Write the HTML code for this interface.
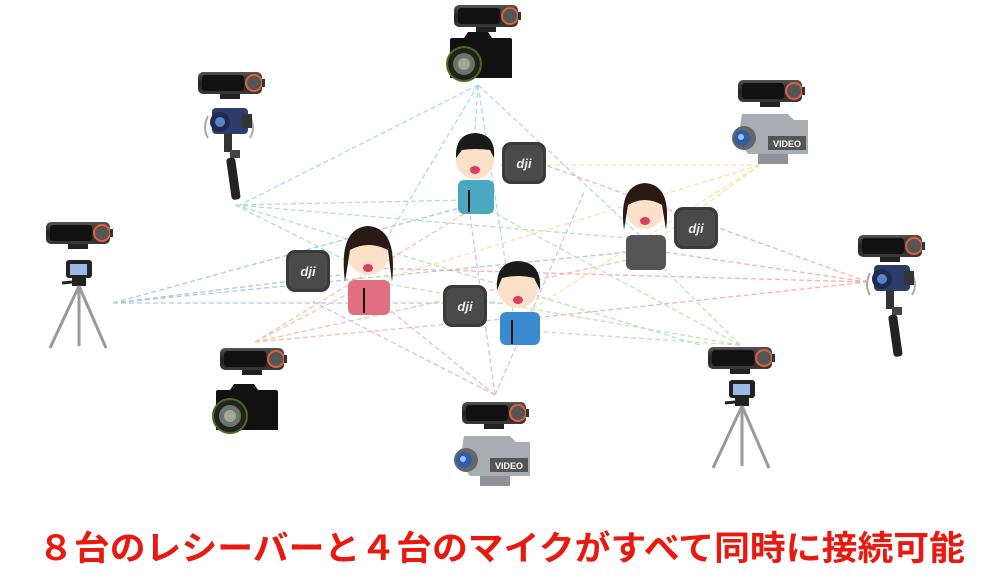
<!DOCTYPE html>
<html><head><meta charset="utf-8"><style>
html,body{margin:0;padding:0;background:#fff;width:996px;height:583px;overflow:hidden}
svg{display:block}
</style></head><body>
<svg width="996" height="583" viewBox="0 0 996 583" xmlns="http://www.w3.org/2000/svg">
<defs>
<linearGradient id="rg" x1="0" y1="0" x2="0" y2="1"><stop offset="0" stop-color="#555"/><stop offset="0.5" stop-color="#222"/><stop offset="1" stop-color="#3a3a3a"/></linearGradient>
<g id="rx">
<rect x="0" y="0" width="64" height="22" rx="5" fill="url(#rg)"/>
<rect x="4" y="3" width="42" height="16" rx="3" fill="#111"/>
<circle cx="56" cy="11" r="8" fill="#555" stroke="#e0603a" stroke-width="2"/>
<rect x="64" y="7" width="3" height="8" fill="#333"/>
<rect x="22" y="22" width="20" height="5" fill="#222"/>
</g>
<g id="dslr">
<path d="M8 8 L20 8 L24 2 L44 2 L48 8 L66 8 Q68 8 68 10 L68 48 L6 48 L6 10 Q6 8 8 8Z" fill="#111"/>
<circle cx="20" cy="34" r="17" fill="#222" stroke="#4a6b1a" stroke-width="2"/>
<circle cx="20" cy="34" r="11" fill="#6b7566"/>
<circle cx="20" cy="34" r="6" fill="#a0a89a"/>
</g>
<g id="video">
<path d="M14 4 L60 4 L66 10 L80 10 L80 44 L20 44 L10 30Z" fill="#a8adb3"/>
<rect x="40" y="26" width="38" height="14" fill="#555"/>
<text x="59" y="37" font-family="Liberation Sans,sans-serif" font-size="9" font-weight="bold" fill="#fff" text-anchor="middle">VIDEO</text>
<circle cx="16" cy="28" r="12" fill="#666"/>
<circle cx="14" cy="28" r="8" fill="#2f5ea8"/>
<circle cx="13" cy="27" r="3" fill="#9fc0f0"/>
<rect x="30" y="44" width="30" height="10" fill="#8e9399"/>
</g>
<g id="gimbal">
<path d="M8 18 Q2 30 8 40" stroke="#aaa" fill="none" stroke-width="2"/>
<path d="M50 18 Q56 30 50 40" stroke="#aaa" fill="none" stroke-width="2"/>
<rect x="12" y="10" width="36" height="26" rx="4" fill="#2d3c6b"/>
<circle cx="20" cy="24" r="10" fill="#1e2a50"/>
<circle cx="20" cy="24" r="5" fill="#5a82c8"/>
<rect x="42" y="16" width="10" height="14" fill="#333"/>
<rect x="24" y="36" width="8" height="18" fill="#333"/>
<rect x="30" y="52" width="10" height="8" fill="#444"/>
<rect x="26" y="60" width="9" height="42" rx="3" fill="#222" transform="rotate(-8 30 60)"/>
</g>
<g id="tripod">
<rect x="18" y="0" width="26" height="18" rx="3" fill="#222"/>
<rect x="22" y="4" width="17" height="11" fill="#9ab8e8"/>
<rect x="24" y="18" width="14" height="8" fill="#222"/>
<line x1="31" y1="26" x2="2" y2="88" stroke="#999" stroke-width="3"/>
<line x1="31" y1="26" x2="31" y2="86" stroke="#999" stroke-width="3"/>
<line x1="31" y1="26" x2="58" y2="88" stroke="#999" stroke-width="3"/>
<line x1="14" y1="23" x2="24" y2="22" stroke="#222" stroke-width="3"/>
</g>
<g id="dji">
<rect x="0" y="0" width="44" height="42" rx="9" fill="#3b3b3b"/>
<rect x="3" y="3" width="38" height="36" rx="7" fill="#4a4a4a"/>
<text x="22" y="26" font-family="Liberation Sans,sans-serif" font-size="13" font-style="italic" font-weight="bold" fill="#eee" text-anchor="middle">dji</text>
</g>
</defs>

<g fill="none" stroke-width="1.3" stroke-dasharray="5 3" opacity="0.85">
<g stroke="#9dd3ea"><path d="M478 85 L470 205 M478 85 L650 245 M478 85 L365 275 M478 85 L515 325 M478 85 L240 205"/></g>
<g stroke="#a8dcb8"><path d="M235 205 L470 200 M235 205 L650 240 M235 205 L365 270 M235 205 L700 345"/></g>
<g stroke="#9fc1d0"><path d="M113 303 L470 205 M113 303 L650 250 M113 303 L340 275 M113 303 L505 303"/></g>
<g stroke="#f5b89a"><path d="M255 342 L470 210 M255 342 L650 255 M255 342 L365 285 M255 342 L515 318"/></g>
<g stroke="#d8b0e0"><path d="M495 395 L470 215 M495 395 L585 190 M495 395 L365 290 M495 395 L310 300"/></g>
<g stroke="#b9dca9"><path d="M740 345 L470 200 M740 345 L650 255 M740 345 L365 280 M740 345 L515 330"/></g>
<g stroke="#f4a5a5"><path d="M868 282 L545 165 M868 282 L650 250 M868 282 L365 268 M868 282 L515 320"/></g>
<g stroke="#f8dc9a"><path d="M760 165 L500 165 M760 165 L650 245 M760 165 L365 285 M760 165 L515 320"/></g>
</g>

<use href="#rx" x="454" y="5"/><use href="#dslr" x="444" y="30"/>
<use href="#rx" x="198" y="72"/><use href="#gimbal" x="200" y="98"/>
<use href="#rx" x="46" y="222"/><use href="#tripod" x="48" y="260"/>
<use href="#rx" x="220" y="348"/><use href="#dslr" x="210" y="382"/>
<use href="#rx" x="462" y="402"/><use href="#video" x="450" y="432"/>
<use href="#rx" x="708" y="347"/><use href="#tripod" x="711" y="380"/>
<use href="#rx" x="858" y="235"/><use href="#gimbal" x="862" y="255"/>
<use href="#rx" x="738" y="80"/><use href="#video" x="728" y="110"/>

<!-- people -->
<g>
<rect x="458" y="180" width="36" height="34" rx="6" fill="#4aa8c0"/>
<circle cx="475" cy="160" r="19" fill="#fde0c8"/>
<path d="M456 158 Q455 134 475 133 Q496 134 494 158 L490 150 Q475 148 462 150Z" fill="#1a1a1a"/>
<ellipse cx="475" cy="170" rx="5" ry="4" fill="#d94060"/>
<line x1="469" y1="190" x2="469" y2="212" stroke="#111" stroke-width="2"/>
</g>
<g>
<rect x="626" y="235" width="40" height="35" rx="6" fill="#555"/>
<circle cx="645" cy="210" r="19" fill="#fde0c8"/>
<path d="M624 230 Q618 185 645 183 Q672 185 666 230 L662 205 Q645 195 628 205Z" fill="#2a1a14"/>
<ellipse cx="645" cy="221" rx="5" ry="4" fill="#d94060"/>
</g>
<g>
<rect x="348" y="280" width="42" height="35" rx="6" fill="#e07080"/>
<circle cx="368" cy="255" r="20" fill="#fde0c8"/>
<path d="M345 282 Q338 228 368 226 Q398 228 392 282 L388 250 Q368 240 350 250Z" fill="#2a1a14"/>
<ellipse cx="368" cy="268" rx="5" ry="4" fill="#d94060"/>
<line x1="364" y1="288" x2="364" y2="313" stroke="#111" stroke-width="2"/>
</g>
<g>
<rect x="500" y="312" width="40" height="33" rx="6" fill="#3a8ad0"/>
<circle cx="518" cy="288" r="20" fill="#fde0c8"/>
<path d="M497 290 Q495 262 518 261 Q542 262 540 290 L534 278 Q518 274 502 278Z" fill="#1a1a1a"/>
<ellipse cx="518" cy="300" rx="5" ry="4" fill="#d94060"/>
<line x1="512" y1="320" x2="512" y2="344" stroke="#111" stroke-width="2"/>
</g>

<use href="#dji" x="502" y="142"/>
<use href="#dji" x="674" y="207"/>
<use href="#dji" x="286" y="250"/>
<use href="#dji" x="443" y="285"/>

<text x="38" y="560" textLength="927" lengthAdjust="spacingAndGlyphs" font-family="Liberation Sans,'Noto Sans CJK JP',sans-serif" font-size="34" font-weight="bold" fill="#e8190f">８台のレシーバーと４台のマイクがすべて同時に接続可能</text>
</svg>
</body></html>
